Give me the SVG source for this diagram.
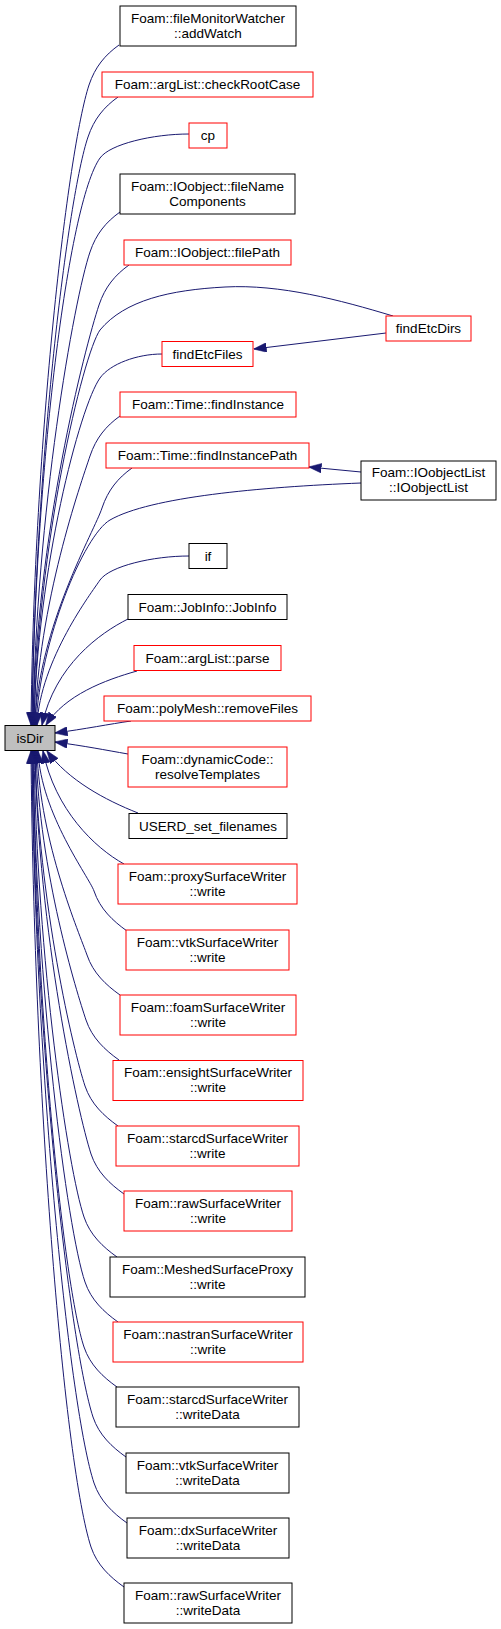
<svg xmlns="http://www.w3.org/2000/svg" width="501" height="1629" viewBox="0 0 501 1629">
<style>
.bg{fill:#ffffff}
.n rect{fill:#ffffff;stroke-width:1}
.r rect{stroke:#ff0000}
.k rect{stroke:#000000}
.cur rect{fill:#bfbfbf;stroke:#000000}
.n text{font-family:"Liberation Sans",Arial,Helvetica,sans-serif;font-size:13.5px;fill:#000000;text-anchor:middle}
.e path{fill:none;stroke:#191970;stroke-width:1;marker-end:url(#ah)}
</style>
<defs>
<marker id="ah" viewBox="0 0 13 9.5" markerWidth="13" markerHeight="9.5" refX="12.5" refY="4.75" orient="auto" markerUnits="userSpaceOnUse">
<path d="M0,0 L13,4.75 L0,9.5 z" fill="#191970" stroke="#191970" stroke-width="0.5"/>
</marker>
</defs>
<rect class="bg" x="0" y="0" width="501" height="1629"/>
<g id="connectors" class="e">
<path d="M119,45 C105,55 95,67 89,85 C68,149 34,437 31,725"/>
<path d="M118,97 C104,107 94,119 88,137 C68,196 35,460 32,725"/>
<path d="M189,134 C153,134 110,144 100,158 C68,203 35,470 32,725"/>
<path d="M120,212 C106,222 96,234 90,252 C74,299 36,512 33,725"/>
<path d="M129,265 C115,275 105,287 99,305 C85,347 36,536 33,725"/>
<path d="M393,316 C340,300 280,284 225,287 C170,290 125,300 100,330 C83,354 37,547 34,725"/>
<path d="M386,333 L254,349"/>
<path d="M162,354 C137,354 110,364 100,378 C80,406 37,569 34,725"/>
<path d="M120,416 C106,426 96,438 90,456 C81,483 38,604 35,725"/>
<path d="M132,468 C118,478 108,490 102,508 C95,530 38,627 35,725"/>
<path d="M361,472 L309,467"/>
<path d="M361,483 C260,487 150,497 110,520 C84,535 40,640 36,725"/>
<path d="M189,556 C153,556 110,566 100,580 C92,592 40,660 37,725"/>
<path d="M128,619 C100,633 55,665 42,725"/>
<path d="M137,671 C105,680 65,695 46,725"/>
<path d="M131,721 C110,724 85,729 55,733"/>
<path d="M128,754 C105,750 85,746 55,742"/>
<path d="M138,813 C105,800 68,780 47,751"/>
<path d="M124,864 C95,848 55,810 43,751"/>
<path d="M127,931 C113,921 100,909 94,891 C89,877 41,814 38,751"/>
<path d="M120,995 C106,985 93,973 87,955 C80,935 40,843 37,751"/>
<path d="M119,1060 C105,1050 92,1038 86,1020 C77,993 39,872 36,751"/>
<path d="M118,1126 C104,1116 91,1104 85,1086 C74,1053 38,902 35,751"/>
<path d="M124,1194 C110,1184 97,1172 91,1154 C78,1114 38,932 35,751"/>
<path d="M117,1257 C103,1247 90,1235 84,1217 C68,1170 37,961 34,751"/>
<path d="M118,1322 C104,1312 91,1300 85,1282 C67,1229 36,990 33,751"/>
<path d="M117,1387 C103,1377 90,1365 84,1347 C64,1287 36,1019 33,751"/>
<path d="M126,1457 C112,1447 99,1435 93,1417 C71,1350 35,1051 32,751"/>
<path d="M127,1523 C113,1513 100,1501 94,1483 C70,1410 35,1080 32,751"/>
<path d="M124,1587 C110,1577 97,1565 91,1547 C65,1467 34,1109 31,751"/>
</g>
<g id="node-addWatch" class="n k"><rect x="120" y="6" width="176" height="40"/><text x="208" y="22.7">Foam::fileMonitorWatcher</text><text x="208" y="37.7">::addWatch</text></g>
<g id="node-checkRootCase" class="n r"><rect x="102" y="72" width="211" height="25"/><text x="207.5" y="89">Foam::argList::checkRootCase</text></g>
<g id="node-cp" class="n r"><rect x="189" y="123" width="38" height="25"/><text x="208" y="140">cp</text></g>
<g id="node-fileNameComponents" class="n k"><rect x="120" y="174" width="175" height="40"/><text x="207.5" y="190.7">Foam::IOobject::fileName</text><text x="207.5" y="205.7">Components</text></g>
<g id="node-filePath" class="n r"><rect x="124" y="240" width="167" height="25"/><text x="207.5" y="257">Foam::IOobject::filePath</text></g>
<g id="node-findEtcDirs" class="n r"><rect x="386" y="316" width="85" height="25"/><text x="428.5" y="333">findEtcDirs</text></g>
<g id="node-findEtcFiles" class="n r"><rect x="162" y="341.5" width="91" height="25"/><text x="207.5" y="358.5">findEtcFiles</text></g>
<g id="node-findInstance" class="n r"><rect x="120" y="392" width="176" height="25"/><text x="208" y="409">Foam::Time::findInstance</text></g>
<g id="node-findInstancePath" class="n r"><rect x="106" y="443" width="203" height="25"/><text x="207.5" y="460">Foam::Time::findInstancePath</text></g>
<g id="node-IOobjectList" class="n k"><rect x="361" y="461" width="135" height="39"/><text x="428.5" y="477.2">Foam::IOobjectList</text><text x="428.5" y="491.7">::IOobjectList</text></g>
<g id="node-if" class="n k"><rect x="189" y="543.5" width="38" height="25"/><text x="208" y="560.5">if</text></g>
<g id="node-JobInfo" class="n k"><rect x="128" y="594.5" width="159" height="25"/><text x="207.5" y="611.5">Foam::JobInfo::JobInfo</text></g>
<g id="node-parse" class="n r"><rect x="134" y="645.5" width="147" height="25"/><text x="207.5" y="662.5">Foam::argList::parse</text></g>
<g id="node-removeFiles" class="n r"><rect x="104" y="696" width="207" height="25"/><text x="207.5" y="713">Foam::polyMesh::removeFiles</text></g>
<g id="node-isDir" class="n cur"><rect x="5" y="725.5" width="50" height="25"/><text x="30" y="742.5">isDir</text></g>
<g id="node-resolveTemplates" class="n r"><rect x="128" y="747" width="159" height="40"/><text x="207.5" y="763.7">Foam::dynamicCode::</text><text x="207.5" y="778.7">resolveTemplates</text></g>
<g id="node-USERD_set_filenames" class="n k"><rect x="129" y="813.5" width="158" height="25"/><text x="208" y="830.5">USERD_set_filenames</text></g>
<g id="node-proxyWrite" class="n r"><rect x="118" y="864" width="179" height="40"/><text x="207.5" y="880.7">Foam::proxySurfaceWriter</text><text x="207.5" y="895.7">::write</text></g>
<g id="node-vtkWrite" class="n r"><rect x="126" y="930" width="163" height="40"/><text x="207.5" y="946.7">Foam::vtkSurfaceWriter</text><text x="207.5" y="961.7">::write</text></g>
<g id="node-foamWrite" class="n r"><rect x="120" y="995" width="176" height="40"/><text x="208" y="1011.7">Foam::foamSurfaceWriter</text><text x="208" y="1026.7">::write</text></g>
<g id="node-ensightWrite" class="n r"><rect x="113" y="1060.5" width="190" height="40"/><text x="208" y="1077.2">Foam::ensightSurfaceWriter</text><text x="208" y="1092.2">::write</text></g>
<g id="node-starcdWrite" class="n r"><rect x="116" y="1126" width="183" height="40"/><text x="207.5" y="1142.7">Foam::starcdSurfaceWriter</text><text x="207.5" y="1157.7">::write</text></g>
<g id="node-rawWrite" class="n r"><rect x="124" y="1191" width="168" height="40"/><text x="208" y="1207.7">Foam::rawSurfaceWriter</text><text x="208" y="1222.7">::write</text></g>
<g id="node-MeshedSurfaceProxyWrite" class="n k"><rect x="110" y="1257" width="195" height="40"/><text x="207.5" y="1273.7">Foam::MeshedSurfaceProxy</text><text x="207.5" y="1288.7">::write</text></g>
<g id="node-nastranWrite" class="n r"><rect x="113" y="1322" width="190" height="40"/><text x="208" y="1338.7">Foam::nastranSurfaceWriter</text><text x="208" y="1353.7">::write</text></g>
<g id="node-starcdWriteData" class="n k"><rect x="116" y="1387" width="183" height="40"/><text x="207.5" y="1403.7">Foam::starcdSurfaceWriter</text><text x="207.5" y="1418.7">::writeData</text></g>
<g id="node-vtkWriteData" class="n k"><rect x="126" y="1453" width="163" height="40"/><text x="207.5" y="1469.7">Foam::vtkSurfaceWriter</text><text x="207.5" y="1484.7">::writeData</text></g>
<g id="node-dxWriteData" class="n k"><rect x="127" y="1518" width="162" height="40"/><text x="208" y="1534.7">Foam::dxSurfaceWriter</text><text x="208" y="1549.7">::writeData</text></g>
<g id="node-rawWriteData" class="n k"><rect x="124" y="1583" width="168" height="40"/><text x="208" y="1599.7">Foam::rawSurfaceWriter</text><text x="208" y="1614.7">::writeData</text></g>
</svg>
